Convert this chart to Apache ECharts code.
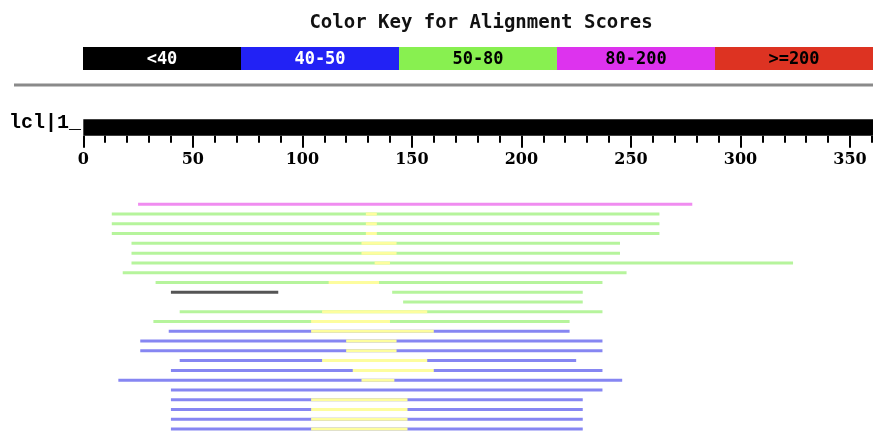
<!DOCTYPE html>
<html><head><meta charset="utf-8">
<script src="https://cdn.jsdelivr.net/npm/echarts@6/dist/echarts.min.js"></script>
<style>html,body{margin:0;padding:0;background:#fff}#c{width:873px;height:434px}</style>
</head><body><div id="c"></div>
<script>
// ---- data ----
const chartTitle = 'Color Key for Alignment Scores';
const keyLabels = ['<40', '40-50', '50-80', '80-200', '>=200'];
const keyColors = ['#000000', '#2222f5', '#88f050', '#dd33ee', '#dd3322'];
const keyTextColors = ['#ffffff', '#ffffff', '#000000', '#000000', '#000000'];
const hitLineColors = ['#555555', '#8686f2', '#b6f49c', '#f08cf0', '#f09088'];
const gapColor = '#fdfd9e';
const queryLabel = 'lcl|1_';
const queryLength = 361;
const rulerTicks = [0, 50, 100, 150, 200, 250, 300, 350];
const minorTicks = [10, 20, 30, 40, 60, 70, 80, 90, 110, 120, 130, 140, 160, 170, 180, 190, 210, 220, 230, 240, 260, 270, 280, 290, 310, 320, 330, 340, 360];

// one entry per aligned segment (hit); row = line index from top, scoreClass = index into key
const hitRow    = [0, 1, 2, 3, 4, 5, 6, 7, 8, 9, 9, 10, 11, 12, 13, 14, 15, 16, 17, 18, 19, 20, 21, 22, 23];
const hitStart  = [25, 13, 13, 13, 22, 22, 22, 18, 33, 40, 141, 146, 44, 32, 39, 26, 26, 44, 40, 16, 40, 40, 40, 40, 40];
const hitEnd    = [278, 263, 263, 263, 245, 245, 324, 248, 237, 89, 228, 228, 237, 222, 222, 237, 237, 225, 237, 246, 237, 228, 228, 228, 228];
const hitClass  = [3, 2, 2, 2, 2, 2, 2, 2, 2, 0, 2, 2, 2, 2, 1, 1, 1, 1, 1, 1, 1, 1, 1, 1, 1];

// unaligned gaps inside hits (drawn yellow)
const gapRow   = [1, 2, 3, 4, 5, 6, 8, 11, 12, 13, 14, 15, 16, 17, 18, 20, 21, 22, 23];
const gapStart = [129, 129, 129, 127, 127, 133, 112, 109, 104, 104, 120, 120, 109, 123, 127, 104, 104, 104, 104];
const gapEnd   = [134, 134, 134, 143, 143, 140, 135, 157, 140, 160, 143, 143, 157, 160, 142, 148, 148, 148, 148];

// ---- chart ----
const AXMAX = 360.5;
const rowCount = 24;
const chart = echarts.init(document.getElementById('c'), null, {renderer: 'canvas'});

const hitData = hitRow.map((r, i) => [hitStart[i], hitEnd[i], r, hitClass[i]]);
const gapData = gapRow.map((r, i) => [gapStart[i], gapEnd[i], r]);

function segRender(colorFn) {
  return function (params, api) {
    const a = api.coord([api.value(0), api.value(2)]);
    const b = api.coord([api.value(1), api.value(2)]);
    return {
      type: 'line',
      shape: {x1: a[0], y1: a[1], x2: b[0], y2: b[1]},
      style: {stroke: colorFn(api), lineWidth: 3}
    };
  };
}

const graphics = [];
const keyX = 83, keyW = 158, keyY = 47, keyH = 23;
keyLabels.forEach((lab, i) => {
  graphics.push({type: 'rect', shape: {x: keyX + i * keyW, y: keyY, width: keyW, height: keyH}, style: {fill: keyColors[i]}});
  graphics.push({type: 'text', x: keyX + i * keyW + keyW / 2, y: keyY + keyH / 2 + 1,
    style: {text: lab, fill: keyTextColors[i], font: 'bold 17px "DejaVu Sans Mono"', align: 'center', verticalAlign: 'middle'}});
});
graphics.push({type: 'line', shape: {x1: 14, y1: 85, x2: 873, y2: 85}, style: {stroke: '#8a8a8a', lineWidth: 3}});
graphics.push({type: 'text', x: 81, y: 133,
  style: {text: queryLabel, fill: '#000', font: 'bold 20px "Liberation Mono"', align: 'right', verticalAlign: 'bottom'}});

const option = {
  animation: false,
  backgroundColor: '#ffffff',
  title: {
    text: chartTitle, left: 476, top: 9, textAlign: 'center',
    textStyle: {fontFamily: 'DejaVu Sans Mono', fontWeight: 'bold', fontSize: 19, color: '#111'}
  },
  graphic: graphics,
  grid: [
    {left: 83.3, right: 0, top: 119.3, height: 16.5},
    {left: 83.3, right: 0, top: 199.4, height: 234.5}
  ],
  xAxis: [
    {gridIndex: 0, type: 'value', min: 0, max: AXMAX, position: 'bottom',
      axisLine: {show: false, onZero: false}, splitLine: {show: false},
      axisTick: {show: true, length: 12, lineStyle: {color: '#000', width: 2}, customValues: rulerTicks},
      axisLabel: {customValues: rulerTicks, margin: 16, color: '#000', fontFamily: 'DejaVu Serif', fontWeight: 'bold', fontSize: 16}},
    {gridIndex: 0, type: 'value', min: 0, max: AXMAX, position: 'bottom',
      axisLine: {show: false, onZero: false}, splitLine: {show: false},
      axisTick: {show: true, length: 7, lineStyle: {color: '#000', width: 2}, customValues: minorTicks},
      axisLabel: {show: false}},
    {gridIndex: 1, type: 'value', min: 0, max: AXMAX, show: false}
  ],
  yAxis: [
    {gridIndex: 0, type: 'value', min: 0, max: 1, show: false},
    {gridIndex: 1, type: 'value', min: -0.5, max: rowCount - 0.5, inverse: true, show: false}
  ],
  series: [
    {type: 'custom', xAxisIndex: 0, yAxisIndex: 0, data: [[0, queryLength]],
      renderItem: function (params, api) {
        const a = api.coord([api.value(0), 0]);
        const b = api.coord([api.value(1), 1]);
        return {type: 'rect', shape: {x: a[0], y: b[1], width: b[0] - a[0], height: a[1] - b[1]}, style: {fill: '#000'}};
      }},
    {type: 'custom', xAxisIndex: 2, yAxisIndex: 1, data: hitData, clip: true,
      renderItem: segRender(api => hitLineColors[api.value(3)])},
    {type: 'custom', xAxisIndex: 2, yAxisIndex: 1, data: gapData, clip: true,
      renderItem: segRender(() => gapColor)}
  ]
};
chart.setOption(option);
</script>
</body></html>
